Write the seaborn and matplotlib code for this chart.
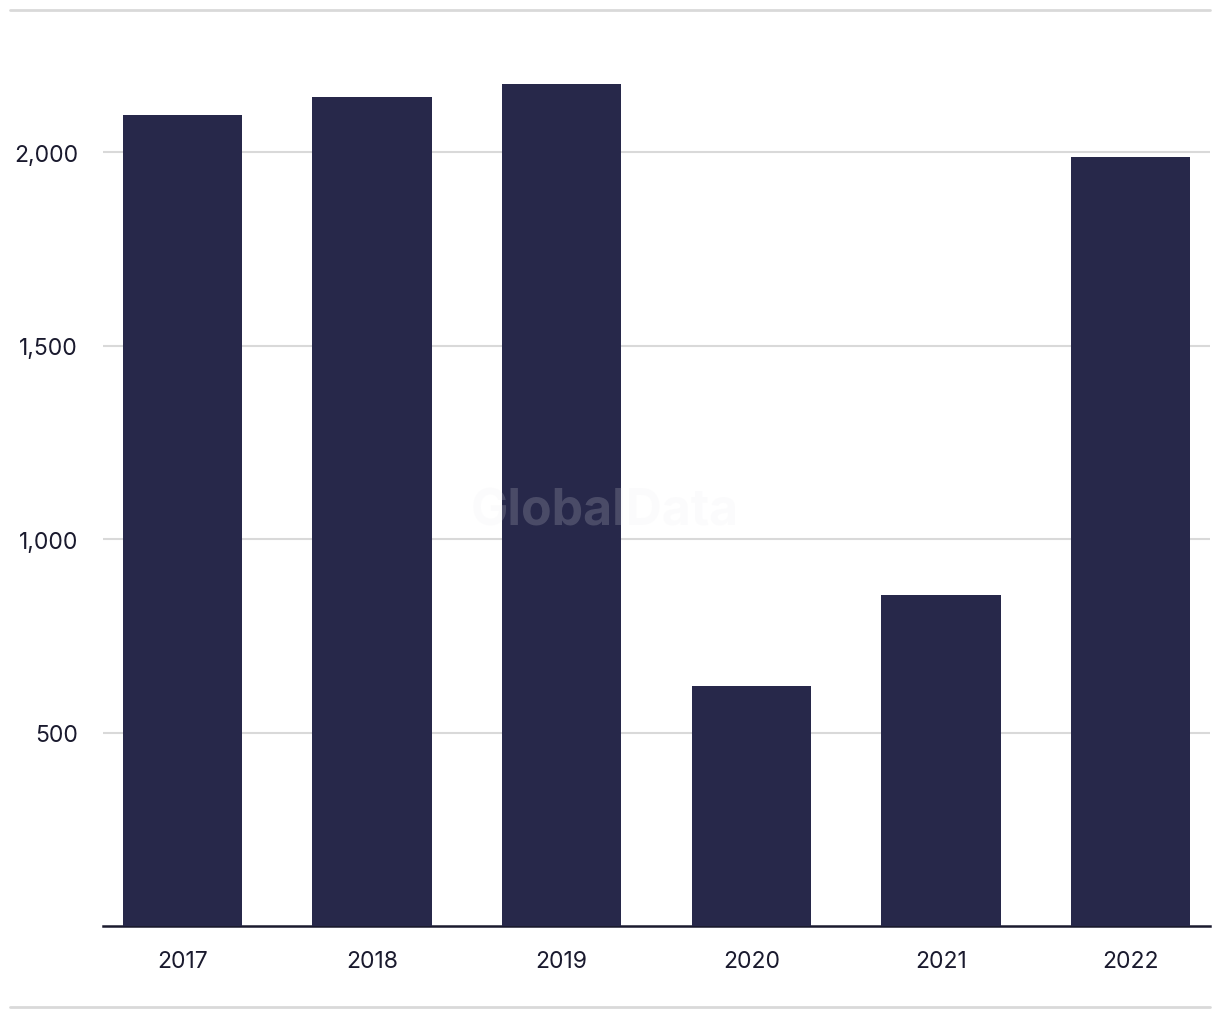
import matplotlib
matplotlib.use("Agg")
import matplotlib.pyplot as plt
from matplotlib.lines import Line2D
import seaborn as sns
import pandas as pd

years = ["2017", "2018", "2019", "2020", "2021", "2022"]
values = [2096, 2142, 2176, 620, 855, 1987]
yticks = [500, 1000, 1500, 2000]
ytick_labels = ["500", "1,000", "1,500", "2,000"]

sns.set_theme(style="white")
plt.rcParams["font.family"] = ["Inter", "DejaVu Sans"]

W, H = 1220, 1020
fig = plt.figure(figsize=(W / 100, H / 100), dpi=100)
left, right, top, bottom = 103, 1210, 11, 927
ax = fig.add_axes([left / W, 1 - bottom / H, (right - left) / W, (bottom - top) / H])

df = pd.DataFrame({"year": years, "value": values})
sns.barplot(data=df, x="year", y="value", color="#27284A", saturation=1,
            width=0.63, linewidth=0, ax=ax, zorder=3)

ax.set_xlim(-0.42, 5.42)
ax.set_ylim(0, 2367)
ax.set_yticks(yticks)
ax.set_yticklabels(ytick_labels)
ax.yaxis.grid(True, color="#D9D9D9", linewidth=1.5, zorder=0)
ax.xaxis.grid(False)
ax.set_axisbelow(True)
for s in ["top", "right", "left"]:
    ax.spines[s].set_visible(False)
ax.spines["bottom"].set_color("#1A1A2E")
ax.spines["bottom"].set_linewidth(1.8)
ax.tick_params(axis="both", length=0, labelsize=16.5, labelcolor="#1A1A2E")
ax.tick_params(axis="y", pad=18)
ax.tick_params(axis="x", pad=17)
ax.set_xlabel("")
ax.set_ylabel("")

# frame lines at top and bottom of figure
for yy in (11, 1008):
    fig.add_artist(Line2D([10 / W, 1210 / W], [1 - yy / H, 1 - yy / H],
                          color="#D9D9D9", linewidth=2, transform=fig.transFigure))

# watermark
fig.text(605 / W, 1 - 512 / H, "GlobalData", ha="center", va="center",
         fontsize=36, fontweight="bold", color=(0.93, 0.93, 0.94, 0.18),
         zorder=10)

fig.savefig("out.png", dpi=100)
